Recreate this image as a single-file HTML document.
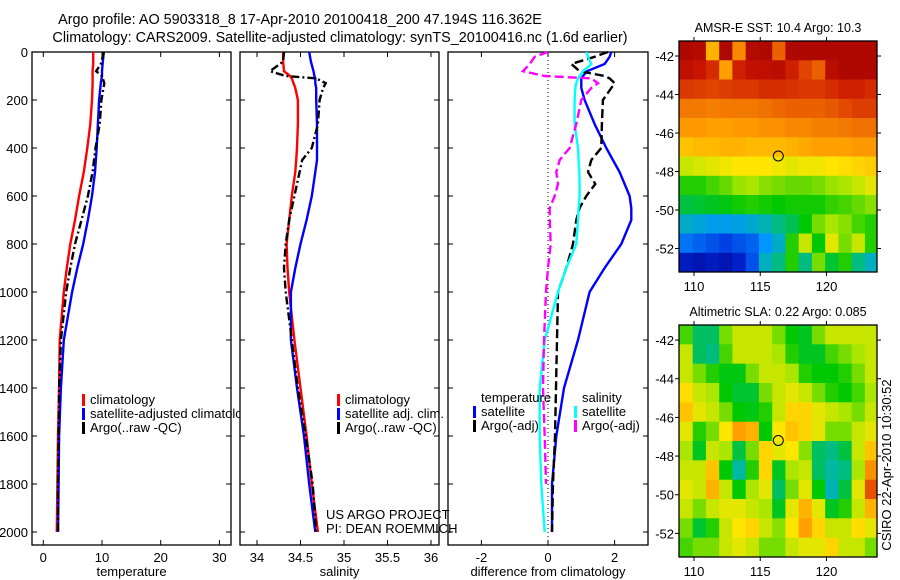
<!DOCTYPE html>
<html><head><meta charset="utf-8"><style>
html,body{margin:0;padding:0;background:#fff;}
svg{display:block;font-family:"Liberation Sans",sans-serif;}
</style></head><body>
<svg id="fig" width="900" height="580" viewBox="0 0 900 580">
<text x="300" y="24" font-size="14.4" text-anchor="middle">Argo profile: AO 5903318_8 17-Apr-2010 20100418_200 47.194S 116.362E</text>
<text x="340" y="42" font-size="14.4" text-anchor="middle">Climatology: CARS2009. Satellite-adjusted climatology: synTS_20100416.nc (1.6d earlier)</text>
<g id="g1"></g>
<g id="g2"></g>
<g id="g3"></g>
<g id="m1"></g>
<g id="m2"></g>
<g id="annot"></g>
</svg>
<script>
// ---- profile data ----
const presT = [0,50,80,100,130,200,300,400,500,600,700,800,900,1000,1200,1400,1600,1800,2000];
const tempClim = [8.5,8.5,8.4,8.4,8.4,8.3,8.0,7.5,6.9,6.1,5.4,4.6,4.0,3.5,2.8,2.7,2.5,2.4,2.3];
const tempSat  = [10.3,10.1,10.0,10.0,9.8,9.5,9.3,9.1,8.8,8.3,7.6,6.8,5.8,4.9,3.5,3.0,2.7,2.6,2.5];
const tempArgo = [10.3,9.8,9.0,10.0,10.4,9.9,9.6,8.9,8.4,7.6,6.5,5.4,4.6,3.9,3.0,2.7,2.6,2.5,2.5];
const presS = [0,40,80,100,110,130,150,200,300,400,450,500,600,700,800,900,1000,1200,1400,1600,1800,2000];
const salClim = [34.30,34.30,34.31,34.38,34.40,34.42,34.44,34.47,34.47,34.46,34.45,34.44,34.40,34.37,34.34,34.35,34.37,34.43,34.50,34.57,34.63,34.70];
const salSat  = [34.60,34.62,34.65,34.66,34.67,34.67,34.68,34.68,34.69,34.69,34.69,34.67,34.63,34.57,34.50,34.44,34.39,34.39,34.46,34.54,34.60,34.67];
const salArgo = [34.31,34.30,34.15,34.33,34.68,34.79,34.76,34.72,34.70,34.63,34.52,34.49,34.43,34.37,34.33,34.31,34.33,34.40,34.47,34.56,34.64,34.68];
const presD = [0,20,50,80,100,110,130,150,200,300,400,450,500,550,600,650,700,800,900,1000,1200,1400,1600,1800,2000];
const dTempSat  = [1.9,1.85,1.7,1.17,1.05,1.0,1.0,1.0,1.1,1.4,1.75,1.95,2.15,2.3,2.45,2.5,2.5,2.2,1.7,1.25,0.9,0.48,0.25,0.12,0.12];
const dTempArgo = [1.8,1.4,0.7,0.95,1.7,1.85,2.0,1.9,1.65,1.62,1.6,1.3,1.2,1.42,1.15,0.95,0.85,0.75,0.55,0.3,0.27,0.24,0.21,0.15,0.12];
const dSalSat   = [1.15,1.2,1.3,1.05,0.95,0.9,0.85,0.82,0.8,0.8,0.9,0.92,0.94,0.95,0.95,0.92,0.9,0.85,0.55,0.3,-0.1,-0.25,-0.25,-0.2,-0.1];
const dSalArgo  = [0.0,-0.4,-0.55,-0.75,-0.1,1.3,1.5,1.3,1.0,0.85,0.65,0.35,0.25,0.3,0.2,0.05,0.05,0.08,0.0,-0.06,-0.12,-0.15,-0.1,-0.06];
const tempTicks = [0,10,20,30];
const salTicks = [34,34.5,35,35.5,36];
const diffTicks = [-2,0,2];
const presTicks = [0,200,400,600,800,1000,1200,1400,1600,1800,2000];
// ---- map data (rows north->south, 1 deg cells from 108.9E, -41.2) ----
const sstGrid = [
[.97,.96,.7,.97,.75,.96,.97,.8,.97,.97,.97,.97,.97,.97,.97],
[.94,.92,.88,.72,.9,.93,.94,.95,.9,.84,.8,.95,.97,.97,.97],
[.86,.85,.84,.85,.86,.86,.88,.88,.87,.86,.86,.88,.9,.9,.88],
[.77,.77,.76,.77,.77,.77,.78,.79,.8,.8,.8,.81,.83,.85,.85],
[.73,.73,.72,.72,.73,.73,.74,.74,.75,.75,.76,.76,.77,.78,.78],
[.68,.69,.69,.7,.7,.69,.69,.69,.7,.71,.72,.72,.72,.73,.73],
[.6,.61,.62,.63,.64,.64,.64,.63,.62,.63,.63,.64,.65,.66,.67],
[.5,.5,.52,.54,.57,.58,.56,.55,.54,.54,.55,.57,.58,.6,.62],
[.44,.45,.46,.47,.49,.5,.49,.48,.49,.49,.49,.51,.52,.54,.56],
[.34,.32,.3,.3,.31,.33,.36,.4,.43,.48,.55,.58,.56,.52,.5],
[.24,.22,.2,.18,.2,.22,.28,.34,.5,.6,.48,.62,.55,.6,.5],
[.1,.08,.1,.08,.12,.2,.35,.4,.5,.4,.55,.45,.5,.4,.35]];
const slaGrid = [
[.52,.42,.42,.55,.6,.6,.6,.55,.48,.46,.55,.6,.6,.6,.6],
[.6,.42,.4,.52,.6,.6,.6,.58,.5,.46,.46,.52,.55,.58,.6],
[.6,.55,.5,.47,.47,.55,.6,.6,.58,.5,.48,.48,.5,.55,.6],
[.65,.6,.58,.48,.45,.45,.55,.6,.62,.6,.55,.5,.48,.52,.58],
[.68,.62,.6,.55,.48,.47,.5,.6,.66,.66,.62,.6,.58,.55,.6],
[.62,.5,.55,.64,.72,.7,.48,.64,.68,.66,.62,.55,.55,.6,.62],
[.58,.46,.6,.58,.44,.55,.66,.62,.64,.56,.42,.4,.44,.6,.68],
[.6,.6,.68,.48,.38,.5,.66,.46,.58,.6,.42,.38,.4,.58,.74],
[.62,.6,.7,.6,.48,.58,.62,.42,.55,.62,.48,.36,.44,.62,.82],
[.6,.55,.6,.62,.62,.6,.58,.46,.62,.7,.62,.46,.5,.6,.7],
[.55,.45,.5,.6,.64,.66,.6,.56,.64,.72,.66,.6,.6,.65,.62],
[.52,.55,.55,.6,.62,.6,.55,.55,.6,.62,.62,.66,.6,.6,.55]];
const lonTicks = [110,115,120];
const latTicks = [-42,-44,-46,-48,-50,-52];
const argoLon = 116.362, argoLat = -47.194;

const NS='http://www.w3.org/2000/svg';
function mk(tag, attrs, parent){const e=document.createElementNS(NS,tag);for(const k in attrs)e.setAttribute(k,attrs[k]);parent.appendChild(e);return e;}
const yP = p => 52 + p*0.24;

function drawPanel(g, x0, x1, xs, ticks, xlabel, fmt){
  mk('rect',{x:x0,y:52,width:x1-x0,height:493,fill:'#fff',stroke:'#000','stroke-width':1.3},g);
  ticks.forEach(t=>{const x=xs(t);
    mk('line',{x1:x,y1:52,x2:x,y2:57,stroke:'#000'},g);
    mk('line',{x1:x,y1:545,x2:x,y2:540,stroke:'#000'},g);
    const tx=mk('text',{x:x,y:562,'font-size':13,'text-anchor':'middle'},g);tx.textContent=fmt(t);
    
    
  });
  presTicks.forEach(p=>{const y=yP(p);
    mk('line',{x1:x0,y1:y,x2:x0+5,y2:y,stroke:'#000'},g);
    mk('line',{x1:x1,y1:y,x2:x1-5,y2:y,stroke:'#000'},g);
  });
  const l=mk('text',{x:(x0+x1)/2,y:576,'font-size':13,'text-anchor':'middle'},g);l.textContent=xlabel;
  
  
}
function drawLine(g, xs, pres, vals, color, dash, name){
  const d = vals.map((v,i)=>(i?'L':'M')+xs(v).toFixed(1)+','+yP(pres[i]).toFixed(1)).join('');
  const a={d:d,fill:'none',stroke:color,'stroke-width':2.4};
  if(dash) a['stroke-dasharray']=dash;
  const p=mk('path',a,g);
  
  
}
function drawLegend(g, x, y, items){
  items.forEach((it,i)=>{
    const yy=y+i*14;
    if(it.c) mk('rect',{x:x,y:yy-10,width:3,height:12,fill:it.c},g);
    const t=mk('text',{x:x+8,y:yy,'font-size':13},g);t.textContent=it.t;
    
    
  });
}
const g1=document.getElementById('g1'),g2=document.getElementById('g2'),g3=document.getElementById('g3');
const xT = t => 43.3 + 5.87*t;
const xS = s => 257 + 87*(s-34);
const xD = d => 548 + 33.3*d;

drawPanel(g1,32,231,xT,tempTicks,'temperature',t=>t);
presTicks.forEach(p=>{const t=mk('text',{x:28,y:yP(p)+5,'font-size':13,'text-anchor':'end'},g1);t.textContent=p;
  
  });
drawLine(g1,xT,presT,tempClim,'#f00',null,'temp-climatology-line');
drawLine(g1,xT,presT,tempSat,'#00f',null,'temp-satellite-line');
drawLine(g1,xT,presT,tempArgo,'#000','8 3 2 3','temp-argo-line');
drawLegend(g1,82,404,[{c:'#f00',t:'climatology'},{c:'#00f',t:'satellite-adjusted climatology'},{c:'#000',t:'Argo(..raw -QC)'}]);

drawPanel(g2,240,439,xS,salTicks,'salinity',t=>t);
drawLine(g2,xS,presS,salClim,'#f00',null,'sal-climatology-line');
drawLine(g2,xS,presS,salSat,'#00f',null,'sal-satellite-line');
drawLine(g2,xS,presS,salArgo,'#000','8 3 2 3','sal-argo-line');
drawLegend(g2,337,404,[{c:'#f00',t:'climatology'},{c:'#00f',t:'satellite adj. clim.'},{c:'#000',t:'Argo(..raw -QC)'}]);

drawPanel(g3,448,648,xD,diffTicks,'difference from climatology',t=>t);
mk('line',{x1:xD(0),y1:52,x2:xD(0),y2:545,stroke:'#000','stroke-dasharray':'1 3'},g3);
drawLine(g3,xD,presD,dTempSat,'#00f',null,'diff-temp-satellite-line');
drawLine(g3,xD,presD,dTempArgo,'#000','9 4','diff-temp-argo-line');
drawLine(g3,xD,presD,dSalSat,'#0ff',null,'diff-sal-satellite-line');
drawLine(g3,xD,presD.slice(0,dSalArgo.length),dSalArgo,'#f0f','9 4','diff-sal-argo-line');
drawLegend(g3,473,402,[{c:null,t:'temperature'},{c:'#00f',t:'satellite'},{c:'#000',t:'Argo(-adj)'}]);
drawLegend(g3,574,402,[{c:null,t:'salinity'},{c:'#0ff',t:'satellite'},{c:'#f0f',t:'Argo(-adj)'}]);

const cmapStops=[0,.15,.28,.38,.48,.58,.64,.72,.82,.92,1];
const cmapCols=[[0,0,130],[0,40,220],[0,150,255],[0,185,160],[0,200,0],[170,230,0],[255,230,0],[255,160,0],[230,80,0],[200,20,0],[160,0,0]];
function cmap(v){
  v=Math.max(0,Math.min(1,v));
  let i=0; while(i<cmapStops.length-2 && v>cmapStops[i+1]) i++;
  const f=(v-cmapStops[i])/(cmapStops[i+1]-cmapStops[i]);
  const a=cmapCols[i],b=cmapCols[i+1];
  return 'rgb('+[0,1,2].map(k=>Math.round(a[k]+(b[k]-a[k])*f)).join(',')+')';
}
function drawMap(g, y0, y1, grid, title, mname){
  const x0=679,x1=877;
  const xL = lon => 694 + (lon-110)*13.25;
  const latTop=-41.22, ppd=(y1-y0)/12.0;
  const yL = lat => y0 + (latTop-lat)*ppd;
  const cid='clip'+mname;
  const cp=mk('clipPath',{id:cid},g); mk('rect',{x:x0,y:y0,width:x1-x0,height:y1-y0},cp);
  const cg=mk('g',{'clip-path':'url(#'+cid+')'},g);
  grid.forEach((row,r)=>row.forEach((v,c)=>{
    const lon=108.9+c, lat=latTop-r;
    const rc=mk('rect',{x:xL(lon).toFixed(1),y:yL(lat).toFixed(1),width:(13.25+0.6).toFixed(2),height:(ppd+0.6).toFixed(2),fill:cmap(v)},cg);
    
    
  }));
  mk('rect',{x:x0,y:y0,width:x1-x0,height:y1-y0,fill:'none',stroke:'#000','stroke-width':1.3},g);
  lonTicks.forEach(l=>{const x=xL(l);
    mk('line',{x1:x,y1:y0,x2:x,y2:y0-4,stroke:'#000'},g);
    mk('line',{x1:x,y1:y1,x2:x,y2:y1+4,stroke:'#000'},g);
    const t=mk('text',{x:x,y:y1+19,'font-size':13,'text-anchor':'middle'},g);t.textContent=l;
    
    });
  latTicks.forEach(l=>{const y=yL(l);
    mk('line',{x1:x0,y1:y,x2:x0-4,y2:y,stroke:'#000'},g);
    mk('line',{x1:x1,y1:y,x2:x1+4,y2:y,stroke:'#000'},g);
    const t=mk('text',{x:x0-5,y:y+5,'font-size':13,'text-anchor':'end'},g);t.textContent=l;
    
    });
  const c=mk('circle',{cx:xL(argoLon),cy:yL(argoLat),r:5,fill:'none',stroke:'#000','stroke-width':1},g);
  
  
  const t=mk('text',{x:778,y:y0-9,'font-size':12.5,'text-anchor':'middle'},g);t.textContent=title;
  
  
}
drawMap(document.getElementById('m1'),41,272,sstGrid,'AMSR-E SST: 10.4  Argo: 10.3','sst');
drawMap(document.getElementById('m2'),325,557,slaGrid,'Altimetric SLA: 0.22  Argo: 0.085','sla');

const topG=document.getElementById('annot');
const a1=mk('text',{x:326,y:519,'font-size':13},topG);a1.textContent='US ARGO PROJECT';


const a2=mk('text',{x:326,y:533,'font-size':13},topG);a2.textContent='PI: DEAN ROEMMICH';


const a3=mk('text',{x:0,y:0,'font-size':13,'text-anchor':'middle',transform:'translate(891,465) rotate(-90)'},topG);a3.textContent='CSIRO 22-Apr-2010 10:30:52';


</script>
</body></html>
